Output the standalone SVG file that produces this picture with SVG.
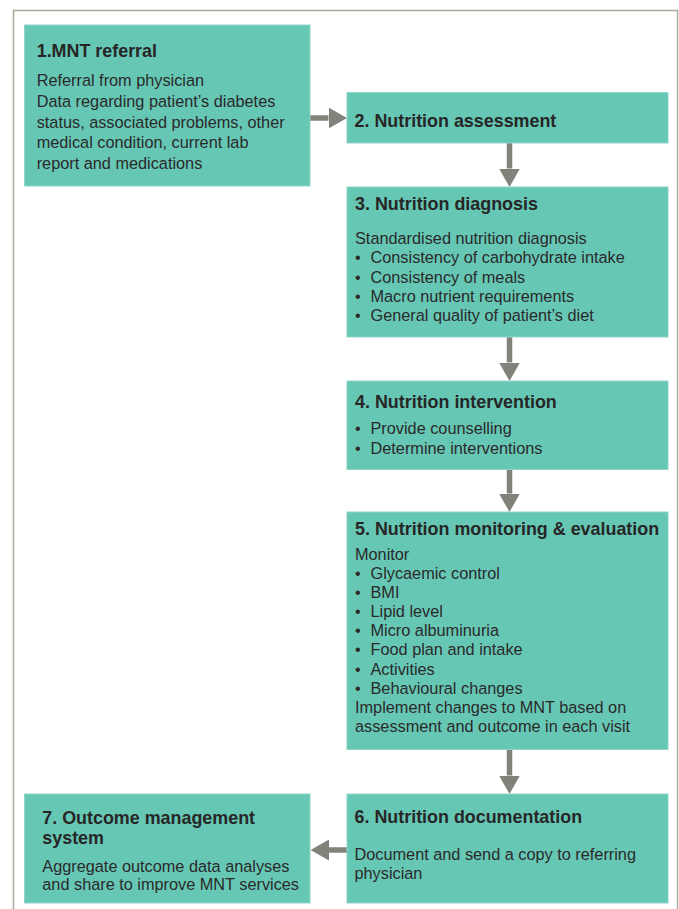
<svg xmlns="http://www.w3.org/2000/svg" width="679" height="909" viewBox="0 0 679 909">
<style>
.box{fill:#67c7b5;stroke:#8fd5c8;stroke-width:1}
.t{font-family:"Liberation Sans",Arial,sans-serif;font-size:17.9px;font-weight:bold;fill:#262626}
.b{font-family:"Liberation Sans",Arial,sans-serif;font-size:16.3px;fill:#2a2a2a}
.c{stroke:#82827a;stroke-width:5.5;fill:none;marker-end:url(#ah)}
</style>
<defs>
<marker id="ah" viewBox="0 0 18.5 21" refX="0" refY="10.5" markerWidth="18.5" markerHeight="21" markerUnits="userSpaceOnUse" orient="auto">
<path d="M0,0 L18.5,10.5 L0,21 Z" fill="#82827a"/>
</marker>
</defs>
<rect x="0" y="0" width="679" height="909" fill="#ffffff"/>
<rect x="13.5" y="10.5" width="664" height="920" fill="none" stroke="#aaa99a" stroke-width="1.5"/>
<g id="connectors">
<line class="c" x1="310" y1="118" x2="328.5" y2="118"/>
<line class="c" x1="509.5" y1="143" x2="509.5" y2="168.5"/>
<line class="c" x1="509.5" y1="337" x2="509.5" y2="362.5"/>
<line class="c" x1="509.5" y1="469.5" x2="509.5" y2="493.5"/>
<line class="c" x1="509.5" y1="749.5" x2="509.5" y2="775.5"/>
<line class="c" x1="347" y1="850" x2="329" y2="850"/>
</g>
<g id="n1">
<rect class="box" x="24.5" y="25" width="285.5" height="161"/>
<text class="t" x="36.7" y="56.7">1.MNT referral</text>
<text class="b" x="36.7" y="86">Referral from physician</text>
<text class="b" x="36.7" y="106.8">Data regarding patient’s diabetes</text>
<text class="b" x="36.7" y="127.6">status, associated problems, other</text>
<text class="b" x="36.7" y="148.4">medical condition, current lab</text>
<text class="b" x="36.7" y="169.2">report and medications</text>
</g>
<g id="n2">
<rect class="box" x="347" y="92.5" width="321" height="50.5"/>
<text class="t" x="354.5" y="126.7">2. Nutrition assessment</text>
</g>
<g id="n3">
<rect class="box" x="347" y="187" width="321" height="150"/>
<text class="t" x="355" y="210">3. Nutrition diagnosis</text>
<text class="b" x="355" y="244">Standardised nutrition diagnosis</text>
<text class="b" x="355" y="263.3">•</text><text class="b" x="370.5" y="263.3">Consistency of carbohydrate intake</text>
<text class="b" x="355" y="282.6">•</text><text class="b" x="370.5" y="282.6">Consistency of meals</text>
<text class="b" x="355" y="301.9">•</text><text class="b" x="370.5" y="301.9">Macro nutrient requirements</text>
<text class="b" x="355" y="321.2">•</text><text class="b" x="370.5" y="321.2">General quality of patient’s diet</text>
</g>
<g id="n4">
<rect class="box" x="347" y="381" width="321" height="88.5"/>
<text class="t" x="355" y="408.3">4. Nutrition intervention</text>
<text class="b" x="355" y="434.3">•</text><text class="b" x="370.5" y="434.3">Provide counselling</text>
<text class="b" x="355" y="453.5">•</text><text class="b" x="370.5" y="453.5">Determine interventions</text>
</g>
<g id="n5">
<rect class="box" x="347" y="512" width="321" height="237.5"/>
<text class="t" x="355" y="534.5">5. Nutrition monitoring &amp; evaluation</text>
<text class="b" x="355" y="559.5">Monitor</text>
<text class="b" x="355" y="578.6">•</text><text class="b" x="370.5" y="578.6">Glycaemic control</text>
<text class="b" x="355" y="597.8">•</text><text class="b" x="370.5" y="597.8">BMI</text>
<text class="b" x="355" y="617">•</text><text class="b" x="370.5" y="617">Lipid level</text>
<text class="b" x="355" y="636.2">•</text><text class="b" x="370.5" y="636.2">Micro albuminuria</text>
<text class="b" x="355" y="655.4">•</text><text class="b" x="370.5" y="655.4">Food plan and intake</text>
<text class="b" x="355" y="674.6">•</text><text class="b" x="370.5" y="674.6">Activities</text>
<text class="b" x="355" y="693.8">•</text><text class="b" x="370.5" y="693.8">Behavioural changes</text>
<text class="b" x="355" y="713">Implement changes to MNT based on</text>
<text class="b" x="355" y="732.2">assessment and outcome in each visit</text>
</g>
<g id="n6">
<rect class="box" x="347" y="794" width="321" height="109"/>
<text class="t" x="354.5" y="823.3">6. Nutrition documentation</text>
<text class="b" x="354.5" y="860">Document and send a copy to referring</text>
<text class="b" x="354.5" y="879.3">physician</text>
</g>
<g id="n7">
<rect class="box" x="24.5" y="794" width="285.5" height="109"/>
<text class="t" x="42.3" y="824">7. Outcome management</text>
<text class="t" x="42.3" y="844">system</text>
<text class="b" x="42.3" y="871.7">Aggregate outcome data analyses</text>
<text class="b" x="42.3" y="889.5">and share to improve MNT services</text>
</g>
</svg>
